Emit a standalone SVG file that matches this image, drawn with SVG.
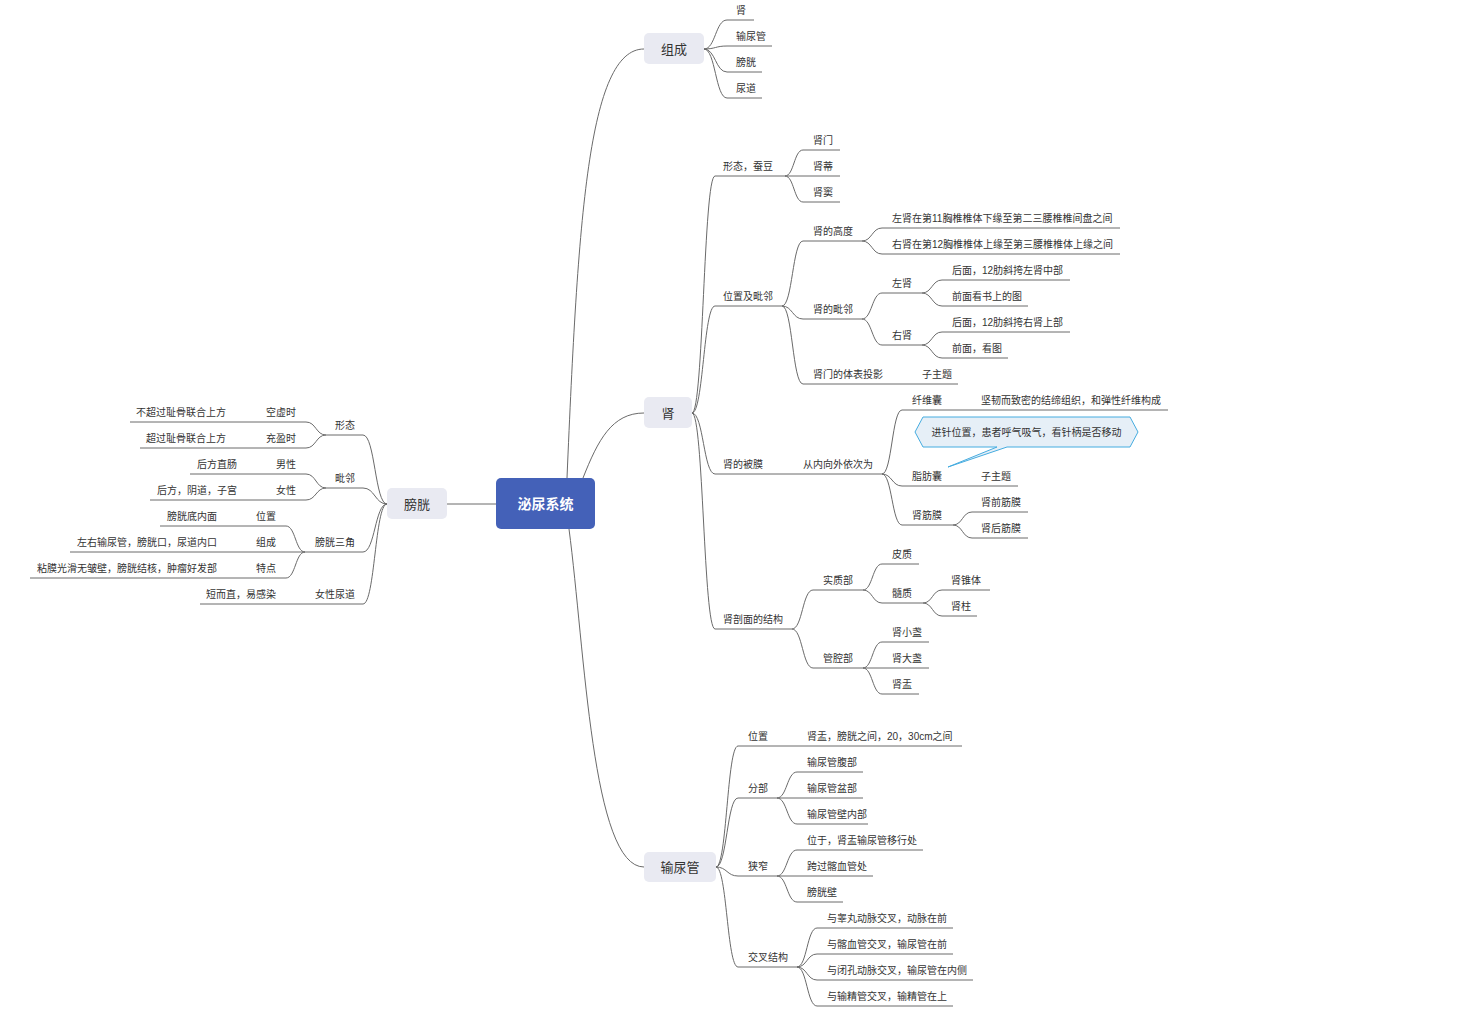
<svg xmlns="http://www.w3.org/2000/svg" width="1458" height="1014" viewBox="0 0 1458 1014">
<style>
text{font-family:"Liberation Sans","Noto Sans CJK SC",sans-serif;fill:#333}
.t{font-size:10px}
.s{transform:translateY(1px)}
.e{text-anchor:end}
.n{font-size:13px;text-anchor:middle}
.c path{fill:none;stroke:#6a6a6a;stroke-width:1}
.box{fill:#e9eaf2}
</style>
<rect width="1458" height="1014" fill="#fff"/>
<g id="connectors" class="c">
<path d="M567,478 C578,220 588,49 644,49"/>
<path d="M583,478 C598,440 612,413 644,413"/>
<path d="M569,529 C585,650 592,867 644,867"/>
<path d="M447,504 L496,504"/>
<path d="M704,49 C715.5,49 715.5,20 727,20 L754,20"/>
<path d="M704,49 C715.5,49 715.5,46 727,46 L772,46"/>
<path d="M704,49 C715.5,49 715.5,72 727,72 L762,72"/>
<path d="M704,49 C715.5,49 715.5,98 727,98 L762,98"/>
<path d="M692,413 C703.5,413 703.5,176 715,176 L785,176"/>
<path d="M692,413 C703.5,413 703.5,306 715,306 L782,306"/>
<path d="M692,413 C703.5,413 703.5,474 715,474 L882,474"/>
<path d="M692,413 C703.5,413 703.5,629 715,629 L792,629"/>
<path d="M785,176 C794,176 794,150 803,150 L840,150"/>
<path d="M785,176 L840,176"/>
<path d="M785,176 C794,176 794,202 803,202 L840,202"/>
<path d="M782,306 C792.5,306 792.5,241 803,241 L862,241"/>
<path d="M782,306 C792.5,306 792.5,319 803,319 L862,319"/>
<path d="M782,306 C792.5,306 792.5,384 803,384 L958,384"/>
<path d="M862,241 C872,241 872,228 882,228 L1120,228"/>
<path d="M862,241 C872,241 872,254 882,254 L1120,254"/>
<path d="M862,319 C872,319 872,293 882,293 L922,293"/>
<path d="M862,319 C872,319 872,345 882,345 L922,345"/>
<path d="M922,293 C932,293 932,280 942,280 L1070,280"/>
<path d="M922,293 C932,293 932,306 942,306 L1028,306"/>
<path d="M922,345 C932,345 932,332 942,332 L1070,332"/>
<path d="M922,345 C932,345 932,358 942,358 L1008,358"/>
<path d="M882,474 C892,474 892,410 902,410 L1168,410"/>
<path d="M882,474 C892,474 892,486 902,486 L1018,486"/>
<path d="M882,474 C892,474 892,525 902,525 L953,525"/>
<path d="M953,525 C962.5,525 962.5,512 972,512 L1028,512"/>
<path d="M953,525 C962.5,525 962.5,538 972,538 L1028,538"/>
<path d="M792,629 C802.5,629 802.5,590 813,590 L863,590"/>
<path d="M792,629 C802.5,629 802.5,668 813,668 L863,668"/>
<path d="M863,590 C872.5,590 872.5,564 882,564 L919,564"/>
<path d="M863,590 C872.5,590 872.5,603 882,603 L923,603"/>
<path d="M923,603 C932.5,603 932.5,590 942,590 L990,590"/>
<path d="M923,603 C932.5,603 932.5,616 942,616 L977,616"/>
<path d="M863,668 C872.5,668 872.5,642 882,642 L929,642"/>
<path d="M863,668 L929,668"/>
<path d="M863,668 C872.5,668 872.5,694 882,694 L919,694"/>
<path d="M716,867 C727,867 727,746 738,746 L962,746"/>
<path d="M716,867 C727,867 727,798 738,798 L777,798"/>
<path d="M716,867 C727,867 727,876 738,876 L777,876"/>
<path d="M716,867 C727,867 727,967 738,967 L797,967"/>
<path d="M777,798 C787,798 787,772 797,772 L863,772"/>
<path d="M777,798 L863,798"/>
<path d="M777,798 C787,798 787,824 797,824 L868,824"/>
<path d="M777,876 C787,876 787,850 797,850 L923,850"/>
<path d="M777,876 L873,876"/>
<path d="M777,876 C787,876 787,902 797,902 L843,902"/>
<path d="M797,967 C807,967 807,928 817,928 L953,928"/>
<path d="M797,967 C807,967 807,954 817,954 L953,954"/>
<path d="M797,967 C807,967 807,980 817,980 L973,980"/>
<path d="M797,967 C807,967 807,1006 817,1006 L953,1006"/>
<path d="M387,504 C375,504 375,435 363,435 L326,435"/>
<path d="M387,504 C375,504 375,488 363,488 L326,488"/>
<path d="M387,504 C375,504 375,552 363,552 L305,552"/>
<path d="M387,504 C375,504 375,604 363,604 L200,604"/>
<path d="M326,435 C316,435 316,422 306,422 L130,422"/>
<path d="M326,435 C316,435 316,448 306,448 L140,448"/>
<path d="M326,488 C316,488 316,474 306,474 L190,474"/>
<path d="M326,488 C316,488 316,500 306,500 L150,500"/>
<path d="M305,552 C295.5,552 295.5,526 286,526 L160,526"/>
<path d="M305,552 L70,552"/>
<path d="M305,552 C295.5,552 295.5,578 286,578 L30,578"/>
</g>
<g id="root">
<rect x="496" y="478" width="99" height="51" rx="5" fill="#4461b8"/>
<text x="545.5" y="509" style="font-size:14px;font-weight:bold;fill:#fff;text-anchor:middle">泌尿系统</text>
</g>
<g id="zucheng">
<rect class="box" x="644" y="33" width="60" height="31" rx="5"/>
<text class="n" x="674" y="53.5">组成</text>
<text class="t s" x="736" y="13">肾</text>
<text class="t s" x="736" y="39">输尿管</text>
<text class="t s" x="736" y="65">膀胱</text>
<text class="t s" x="736" y="91">尿道</text>
</g>
<g id="shen">
<rect class="box" x="644" y="397" width="48" height="31" rx="5"/>
<text class="n" x="668" y="417.5">肾</text>
<text class="t s" x="723" y="169">形态，蚕豆</text>
<text class="t s" x="813" y="143">肾门</text>
<text class="t s" x="813" y="169">肾蒂</text>
<text class="t s" x="813" y="195">肾窦</text>
<text class="t s" x="723" y="299">位置及毗邻</text>
<text class="t s" x="813" y="234">肾的高度</text>
<text class="t s" x="892" y="221">左肾在第11胸椎椎体下缘至第二三腰椎椎间盘之间</text>
<text class="t s" x="892" y="247">右肾在第12胸椎椎体上缘至第三腰椎椎体上缘之间</text>
<text class="t s" x="813" y="312">肾的毗邻</text>
<text class="t s" x="892" y="286">左肾</text>
<text class="t s" x="952" y="273">后面，12肋斜挎左肾中部</text>
<text class="t s" x="952" y="299">前面看书上的图</text>
<text class="t s" x="892" y="338">右肾</text>
<text class="t s" x="952" y="325">后面，12肋斜挎右肾上部</text>
<text class="t s" x="952" y="351">前面，看图</text>
<text class="t s" x="813" y="377">肾门的体表投影</text>
<text class="t s" x="922" y="377">子主题</text>
<text class="t s" x="723" y="467">肾的被膜</text>
<text class="t s" x="803" y="467">从内向外依次为</text>
<text class="t s" x="912" y="403">纤维囊</text>
<text class="t s" x="981" y="403">坚韧而致密的结缔组织，和弹性纤维构成</text>
<text class="t s" x="912" y="479">脂肪囊</text>
<text class="t s" x="981" y="479">子主题</text>
<text class="t s" x="912" y="518">肾筋膜</text>
<text class="t s" x="981" y="505">肾前筋膜</text>
<text class="t s" x="981" y="531">肾后筋膜</text>
<text class="t s" x="723" y="622">肾剖面的结构</text>
<text class="t s" x="823" y="583">实质部</text>
<text class="t s" x="892" y="557">皮质</text>
<text class="t s" x="892" y="596">髓质</text>
<text class="t s" x="951" y="583">肾锥体</text>
<text class="t s" x="951" y="609">肾柱</text>
<text class="t s" x="823" y="661">管腔部</text>
<text class="t s" x="892" y="635">肾小盏</text>
<text class="t s" x="892" y="661">肾大盏</text>
<text class="t s" x="892" y="687">肾盂</text>
</g>
<g id="callout">
<polygon points="915,432 923,417 1130,417 1138,432 1130,447 1007,447 948,467 997,447 923,447" fill="#e6eff7" stroke="#45ace0" stroke-width="1"/>
<text class="t" x="1026.5" y="436" style="text-anchor:middle">进针位置，患者呼气吸气，看针柄是否移动</text>
</g>
<g id="shuniaoguan">
<rect class="box" x="644" y="852" width="72" height="30" rx="5"/>
<text class="n" x="680" y="871.5">输尿管</text>
<text class="t s" x="748" y="739">位置</text>
<text class="t s" x="807" y="739">肾盂，膀胱之间，20，30cm之间</text>
<text class="t s" x="748" y="791">分部</text>
<text class="t s" x="807" y="765">输尿管腹部</text>
<text class="t s" x="807" y="791">输尿管盆部</text>
<text class="t s" x="807" y="817">输尿管壁内部</text>
<text class="t s" x="748" y="869">狭窄</text>
<text class="t s" x="807" y="843">位于，肾盂输尿管移行处</text>
<text class="t s" x="807" y="869">跨过髂血管处</text>
<text class="t s" x="807" y="895">膀胱壁</text>
<text class="t s" x="748" y="960">交叉结构</text>
<text class="t s" x="827" y="921">与睾丸动脉交叉，动脉在前</text>
<text class="t s" x="827" y="947">与髂血管交叉，输尿管在前</text>
<text class="t s" x="827" y="973">与闭孔动脉交叉，输尿管在内侧</text>
<text class="t s" x="827" y="999">与输精管交叉，输精管在上</text>
</g>
<g id="pangguang">
<rect class="box" x="387" y="488" width="60" height="31" rx="5"/>
<text class="n" x="417" y="508.5">膀胱</text>
<text class="t s e" x="355" y="428">形态</text>
<text class="t s e" x="296" y="415">空虚时</text>
<text class="t s e" x="226" y="415">不超过耻骨联合上方</text>
<text class="t s e" x="296" y="441">充盈时</text>
<text class="t s e" x="226" y="441">超过耻骨联合上方</text>
<text class="t s e" x="355" y="481">毗邻</text>
<text class="t s e" x="296" y="467">男性</text>
<text class="t s e" x="237" y="467">后方直肠</text>
<text class="t s e" x="296" y="493">女性</text>
<text class="t s e" x="237" y="493">后方，阴道，子宫</text>
<text class="t s e" x="355" y="545">膀胱三角</text>
<text class="t s e" x="276" y="519">位置</text>
<text class="t s e" x="217" y="519">膀胱底内面</text>
<text class="t s e" x="276" y="545">组成</text>
<text class="t s e" x="217" y="545">左右输尿管，膀胱口，尿道内口</text>
<text class="t s e" x="276" y="571">特点</text>
<text class="t s e" x="217" y="571">粘膜光滑无皱壁，膀胱结核，肿瘤好发部</text>
<text class="t s e" x="355" y="597">女性尿道</text>
<text class="t s e" x="276" y="597">短而直，易感染</text>
</g>
</svg>
